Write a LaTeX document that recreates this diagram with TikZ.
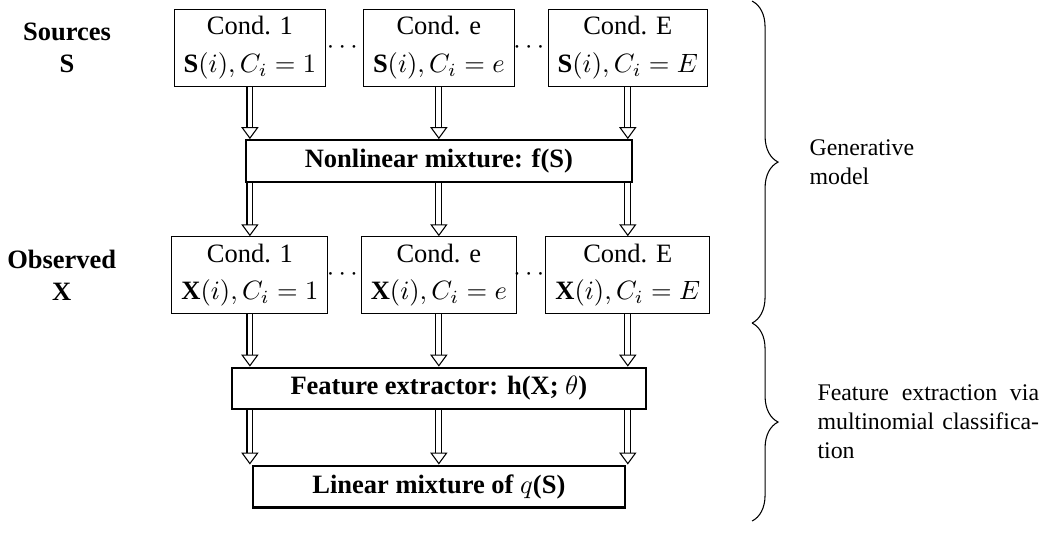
\documentclass[tikz,border=0pt]{standalone}
\usepackage{amsmath}
\usepackage{fontspec}
\setmainfont{Liberation Serif}
\usetikzlibrary{arrows.meta,positioning,calc,decorations.pathreplacing}

\begin{document}
\begin{tikzpicture}[x=1pt,y=1pt,node distance=71.3pt,on grid,
        cond/.style={draw,line width=0.4pt,align=center,inner xsep=3.6pt,inner ysep=2.6pt},
        block/.style={draw,thick,font=\bfseries},
        side/.style={font=\bfseries,align=center},
        dots/.style={inner sep=0pt},
        dbl/.style={double,double distance=1.8pt,line width=0.4pt,-{Triangle[open,length=4.5pt,width=6.5pt]}},
        brc/.style={decorate,decoration={brace,amplitude=9.8pt}},
        every edge/.append style={dbl}]
    \useasboundingbox (0,0) rectangle (393.2,-204.5);
    % sources
    \node[cond] (s_1) at (94.3,-18.1) {Cond. 1\\[2.3pt]$\mathbf{S}(i), C_i = 1$};
    \node[cond] (s_e) [right=of s_1] {Cond. e\\[2.3pt]$\mathbf{S}(i), C_i = e$};
    \node[cond] (s_E) [right=of s_e] {Cond. E\\[2.3pt]$\mathbf{S}(i), C_i = E$};
    \node[dots] (sd_1) at ($(s_1.east)!0.5!(s_e.west)$) {$\cdots$};
    \node[dots] (sd_2) at ($(s_e.east)!0.5!(s_E.west)$) {$\cdots$};
    \node[side] (src) [left=69pt of s_1] {Sources\\S};
    \node[block,minimum width=145.7pt] (nl) [below=42.7pt of s_e] {Nonlinear mixture: f(S)};
    % observations
    \node[cond] (x_1) [below=85.7pt of s_1] {Cond. 1\\[2.3pt]$\mathbf{X}(i), C_i = 1$};
    \node[cond] (x_e) [right=of x_1] {Cond. e\\[2.3pt]$\mathbf{X}(i), C_i = e$};
    \node[cond] (x_E) [right=of x_e] {Cond. E\\[2.3pt]$\mathbf{X}(i), C_i = E$};
    \node[dots] (xd_1) at ($(x_1.east)!0.5!(x_e.west)$) {$\cdots$};
    \node[dots] (xd_2) at ($(x_e.east)!0.5!(x_E.west)$) {$\cdots$};
    \node[side] (obs) [left=71pt of x_1] {Observed\\X};
    \node[block,minimum width=156.2pt] (feat) [below=42.8pt of x_e] {Feature extractor: h(X; $\theta$)};
    \node[block,minimum width=140.4pt] (lin) [below=37pt of feat] {Linear mixture of $q$(S)};
    \path[dbl]
    (s_1) edge (s_1 |- nl.north)
    (s_e) edge (s_e |- nl.north)
    (s_E) edge (s_E |- nl.north)
    (nl.south -| x_1) edge (x_1)
    (nl.south -| x_e) edge (x_e)
    (nl.south -| x_E) edge (x_E)
    (x_1) edge (x_1 |- feat.north)
    (x_e) edge (x_e |- feat.north)
    (x_E) edge (x_E |- feat.north)
    (x_1 |- feat.south) edge (x_1 |- lin.north)
    (x_e |- feat.south) edge (x_e |- lin.north)
    (x_E |- feat.south) edge (x_E |- lin.north);
    % braces
    \coordinate (g_top) at (283.8,-0.4);
    \coordinate (g_bot) at (283.8,-121.9);
    \coordinate (f_bot) at (283.8,-196.6);
    \draw[brc] (g_top) -- (g_bot) node[midway,anchor=west,xshift=21.5pt,inner sep=0pt,font=\small,align=left] (gen) {Generative\\model};
    \draw[brc] (g_bot) -- (f_bot) node[midway,anchor=west,xshift=24.5pt,inner sep=0pt,font=\small,text width=83.6pt,align=justify] (fex) {Feature extraction via multinomial classification};
\end{tikzpicture}
\end{document}
